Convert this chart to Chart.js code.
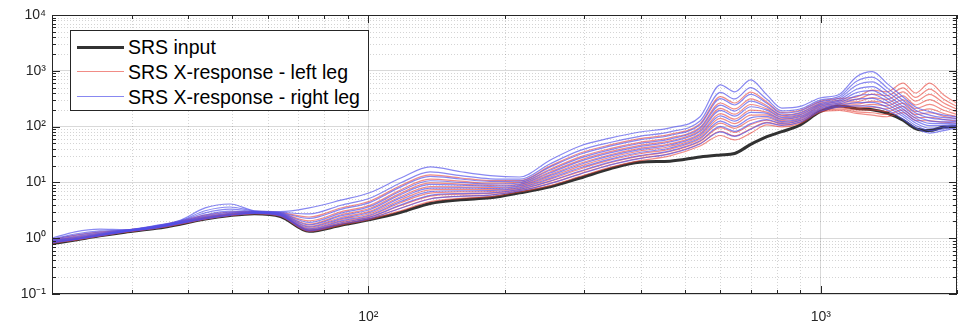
<!DOCTYPE html>
<html>
<head>
<meta charset="utf-8">
<script src="https://cdn.jsdelivr.net/npm/chart.js@4.4.1/dist/chart.umd.min.js"></script>
<style>
html,body{margin:0;padding:0;background:#fff;}
#wrap{position:relative;width:961px;height:330px;overflow:hidden;}
#c{position:absolute;left:0;top:0;}
#legend{position:absolute;left:70px;top:30px;width:297px;height:79px;background:#fff;border:1px solid #262626;
  font-family:"Liberation Sans",Arial,Helvetica,sans-serif;font-size:19.5px;color:#000;z-index:2;}
.item{position:absolute;left:0;height:24px;width:297px;}
.item .sw{position:absolute;left:6px;width:47px;top:12px;}
.item .tx{position:absolute;left:57px;top:0;line-height:24px;white-space:nowrap;}
</style>
</head>
<body>
<div id="wrap">
  <canvas id="c" width="961" height="330"></canvas>
  <div id="legend"></div>
</div>
<script>
// ---- data (frequency in Hz, SRS values) ----
const freqs = [20,22.5,25.5,29,34,38.4,43.6,49.5,56,64, 74,87,101,118,137,160,186,216,252,294, 342,398,464,541,600,645,700,760,820,900, 996,1100,1200,1300,1400,1520,1620,1740,1870,2000];

const srsInput = [0.8,0.93,1.1,1.28,1.5,1.78,2.2,2.55,2.75,2.45, 1.33,1.7,2.15,2.9,4.2,4.9,5.3,6.5,8.3,12, 17.5,23,24,28.5,31,33,48,66,81,107, 185,235,210,200,175,130,92,85,98,100];

const rightLeg1 = [1.0,1.3,1.45,1.42,1.70,2.1,3.5,4.1,3.1,3.0, 3.5,4.8,6.6,12,19,15.5,13.2,12.5,25,45, 62,80,95,150,560,420,690,370,215,230, 325,380,785,965,595,340,225,185,160,150];
const rightLeg2 = [0.97,1.19,1.35,1.40,1.67,2.05,3.1,3.62,3.05,2.92, 2.72,3.89,5.26,9.85,15.4,13.2,11.6,11.4,21.4,37.4, 51.9,67,80.2,126,411,313,498,308,192,207, 298,350,649,769,499,294,197,161,145,140];
const rightLeg3 = [0.94,1.12,1.28,1.38,1.64,2.01,2.84,3.31,3.0,2.85, 2.26,3.29,4.39,8.31,12.8,11.5,10.4,10.5,18.8,31.9, 44.6,57.8,69.2,108,316,244,377,263,174,190, 277,326,551,632,430,259,175,143,133,131];
const rightLeg4 = [0.92,1.06,1.22,1.36,1.62,1.97,2.62,3.05,2.96,2.78, 1.92,2.82,3.72,7.0,10.7,10.0,9.33,9.75,16.5,27.2, 38.3,49.8,59.7,92.5,243,190,286,225,158,174, 257,303,467,521,369,229,155,127,122,124];
const rightLeg5 = [0.90,1.02,1.18,1.35,1.60,1.94,2.50,2.90,2.93,2.72, 1.73,2.51,3.27,6.07,9.21,8.92,8.52,9.14,14.7,23.8, 33.8,43.9,52.9,81.5,195,154,227,197,145,161, 242,286,407,442,326,206,141,114,113,117];
const rightLeg6 = [0.88,0.99,1.16,1.34,1.58,1.91,2.39,2.78,2.89,2.67, 1.58,2.25,2.92,5.27,7.92,7.95,7.77,8.55,13.2,20.9, 29.8,38.8,46.8,71.7,156,125,180,173,134,150, 227,269,355,376,288,186,128,104,105,112];
const rightLeg7 = [0.86,0.96,1.13,1.32,1.56,1.88,2.31,2.67,2.86,2.61, 1.47,2.05,2.63,4.57,6.81,7.08,7.1,8.01,11.8,18.3, 26.2,34.3,41.4,63.1,125,101,143,152,123,139, 213,254,310,320,254,167,116,93.6,98,106];
const rightLeg8 = [0.84,0.95,1.12,1.31,1.54,1.85,2.25,2.61,2.82,2.56, 1.40,1.89,2.41,3.96,5.85,6.31,6.48,7.51,10.6,16.0, 23.1,30.2,36.7,55.6,101,82.3,113,133,114,129, 201,239,270,272,224,151,105,84.8,91.3,101];
const rightLeg9 = [0.82,0.94,1.10,1.30,1.52,1.82,2.21,2.57,2.79,2.51, 1.35,1.78,2.25,3.44,5.04,5.63,5.91,7.03,9.48,14.1, 20.4,26.7,32.4,48.9,80.7,66.8,89.8,117,105,120, 188,226,236,231,198,136,95.5,76.7,85,95.7];

const leftLeg1 = [0.95,1.14,1.30,1.39,1.65,2.03,2.6,2.95,3.02,2.87, 2.40,3.48,4.65,8.78,13.6,12.0,10.8,10.8,19.6,33.7, 46.9,60.8,72.6,113,345,265,414,277,180,196, 284,320,340,450,420,600,400,600,370,260];
const leftLeg2 = [0.93,1.08,1.24,1.37,1.63,1.99,2.45,2.8,2.98,2.80, 2.04,2.97,3.92,7.4,11.4,10.5,9.67,10.0,17.2,28.7, 40.3,52.3,62.7,97.3,265,207,314,237,163,179, 263,296,305,382,357,495,334,468,309,229];
const leftLeg3 = [0.91,1.03,1.2,1.36,1.61,1.95,2.38,2.72,2.94,2.74, 1.79,2.63,3.44,6.43,9.78,9.33,8.83,9.37,15.4,25.1, 35.5,46.2,55.5,85.8,213,167,249,208,150,166, 247,276,278,330,308,418,286,377,265,204];
const leftLeg4 = [0.89,1.0,1.17,1.34,1.59,1.92,2.32,2.66,2.91,2.69, 1.63,2.35,3.05,5.58,8.42,8.32,8.06,8.79,13.8,22.0, 31.3,40.8,49.1,75.4,171,136,197,182,138,154, 233,258,253,287,267,354,244,305,227,183];
const leftLeg5 = [0.87,0.97,1.14,1.33,1.57,1.89,2.28,2.62,2.87,2.64, 1.52,2.15,2.77,4.9,7.35,7.5,7.43,8.28,12.5,19.6, 27.9,36.5,44.0,67.3,140,113,160,162,128,144, 220,243,232,251,235,303,211,250,196,165];
const leftLeg6 = [0.85,0.955,1.125,1.32,1.55,1.86,2.25,2.6,2.84,2.59, 1.44,1.98,2.54,4.32,6.41,6.76,6.84,7.81,11.3,17.4, 25.0,32.6,39.5,60.0,115,93.3,130,144,119,135, 208,229,214,223,208,263,185,208,172,150];
const leftLeg7 = [0.84,0.94,1.11,1.31,1.54,1.84,2.23,2.58,2.82,2.55, 1.38,1.87,2.38,3.85,5.68,6.17,6.36,7.41,10.4,15.6, 22.5,29.5,35.8,54.2,96.2,78.9,108,130,112,127, 198,218,199,200,186,231,164,177,153,138];
const leftLeg8 = [0.82,0.935,1.10,1.29,1.52,1.81,2.21,2.56,2.79,2.51, 1.36,1.79,2.27,3.48,5.1,5.7,5.95,7.1,9.6,14.3, 20.7,27.1,33.0,49.8,82.5,68.0,91.5,119,106,121, 188,205,184,177,165,200,144,147,134,125];
const leftLeg9 = [0.81,0.93,1.10,1.285,1.51,1.79,2.2,2.55,2.76,2.47, 1.33,1.72,2.18,3.11,4.53,5.19,5.55,6.72,8.77,12.8, 18.6,24.5,29.8,44.8,69.2,57.7,76.4,107,99,114, 181,196,172,160,150,178,129,127,120,116];

const rightLegSeries = [rightLeg1,rightLeg2,rightLeg3,rightLeg4,rightLeg5,rightLeg6,rightLeg7,rightLeg8,rightLeg9];
const leftLegSeries = [leftLeg1,leftLeg2,leftLeg3,leftLeg4,leftLeg5,leftLeg6,leftLeg7,leftLeg8,leftLeg9];

const seriesNames = ['SRS input', 'SRS X-response - left leg', 'SRS X-response - right leg'];

// ---- ticks ----
const xTickValues = [20,30,40,50,60,70,80,90,100,200,300,400,500,600,700,800,900,1000,2000];
const xMajorTicks = [100, 1000];
const xMajorLabels = ['10\u00B2', '10\u00B3'];
const yMajorTicks = [0.1, 1, 10, 100, 1000, 10000];
const yMajorLabels = ['10\u207B\u00B9', '10\u2070', '10\u00B9', '10\u00B2', '10\u00B3', '10\u2074'];

// ---- styling ----
const FONT = '"Liberation Sans", Arial, Helvetica, sans-serif';
const BLACK = 'rgb(50,50,50)';
const RED = 'rgba(232,70,60,0.62)';
const BLUE = 'rgba(80,80,235,0.68)';
const AXIS = '#262626';

const yTickValues = [];
for (let i = 0; i < yMajorTicks.length - 1; i++) {
  for (let k = 1; k <= 9; k++) yTickValues.push(+(yMajorTicks[i] * k).toPrecision(6));
}
yTickValues.push(yMajorTicks[yMajorTicks.length - 1]);

function isDecade(v) { const l = Math.log10(v); return Math.abs(l - Math.round(l)) < 1e-6; }
function labelFor(v, majors, labels) {
  for (let i = 0; i < majors.length; i++) if (Math.abs(Math.log10(v) - Math.log10(majors[i])) < 1e-6) return labels[i];
  return '';
}
function pts(vals) { return freqs.map((f, i) => ({ x: f, y: vals[i] })); }

const datasets = [];
datasets.push({ label: seriesNames[0], data: pts(srsInput), borderColor: BLACK, borderWidth: 3, order: 3 });
leftLegSeries.forEach((s, i) => datasets.push({ label: i === 0 ? seriesNames[1] : '', data: pts(s), borderColor: RED, borderWidth: 1.2, order: 2 }));
rightLegSeries.forEach((s, i) => datasets.push({ label: i === 0 ? seriesNames[2] : '', data: pts(s), borderColor: BLUE, borderWidth: 1.2, order: 1 }));

// ---- MATLAB-like axes: dotted minor grid, inward ticks, box ----
const matlabAxes = {
  id: 'matlabAxes',
  beforeDatasetsDraw(chart) {
    const { ctx, chartArea: a, scales: { x, y } } = chart;
    ctx.save();
    ctx.strokeStyle = 'rgba(0,0,0,0.17)';
    ctx.lineWidth = 1;
    ctx.setLineDash([1, 2]);
    ctx.beginPath();
    x.ticks.forEach(t => {
      if (isDecade(t.value)) return;
      const px = Math.round(x.getPixelForValue(t.value)) + 0.5;
      ctx.moveTo(px, a.top); ctx.lineTo(px, a.bottom);
    });
    y.ticks.forEach(t => {
      if (isDecade(t.value)) return;
      const py = Math.round(y.getPixelForValue(t.value)) + 0.5;
      ctx.moveTo(a.left, py); ctx.lineTo(a.right, py);
    });
    ctx.stroke();
    ctx.restore();
  },
  afterDatasetsDraw(chart) {
    const { ctx, chartArea: a, scales: { x, y } } = chart;
    ctx.save();
    ctx.strokeStyle = AXIS;
    ctx.lineWidth = 1;
    ctx.beginPath();
    x.ticks.forEach(t => {
      const px = Math.round(x.getPixelForValue(t.value)) + 0.5;
      const len = isDecade(t.value) ? 8 : 4;
      ctx.moveTo(px, a.bottom); ctx.lineTo(px, a.bottom - len);
      ctx.moveTo(px, a.top); ctx.lineTo(px, a.top + len);
    });
    y.ticks.forEach(t => {
      const py = Math.round(y.getPixelForValue(t.value)) + 0.5;
      const len = isDecade(t.value) ? 8 : 4;
      ctx.moveTo(a.left, py); ctx.lineTo(a.left + len, py);
      ctx.moveTo(a.right, py); ctx.lineTo(a.right - len, py);
    });
    ctx.stroke();
    ctx.strokeRect(Math.round(a.left) + 0.5, Math.round(a.top) + 0.5, Math.round(a.right - a.left) - 1, Math.round(a.bottom - a.top) - 1);
    ctx.restore();
  }
};

const tickFont = { family: FONT, size: 14 };

new Chart(document.getElementById('c').getContext('2d'), {
  type: 'line',
  data: { datasets },
  options: {
    responsive: false,
    animation: false,
    events: [],
    layout: { padding: { top: 15, right: 4, left: 0, bottom: 0 } },
    plugins: { legend: { display: false }, tooltip: { enabled: false } },
    elements: { point: { radius: 0 }, line: { cubicInterpolationMode: 'monotone' } },
    scales: {
      x: {
        type: 'logarithmic', min: 20, max: 2000,
        afterBuildTicks: s => { s.ticks = xTickValues.map(v => ({ value: v })); },
        afterFit: s => { s.height = 36; s.paddingLeft = 0; s.paddingRight = 0; },
        grid: { color: c => (c.tick && isDecade(c.tick.value)) ? 'rgba(0,0,0,0.15)' : 'rgba(0,0,0,0)', drawTicks: false, lineWidth: 1 },
        border: { display: false },
        ticks: { autoSkip: false, maxRotation: 0, minRotation: 0, padding: 15, color: AXIS, font: tickFont,
          callback: v => labelFor(v, xMajorTicks, xMajorLabels) }
      },
      y: {
        type: 'logarithmic', min: 0.1, max: 10000,
        afterBuildTicks: s => { s.ticks = yTickValues.map(v => ({ value: v })); },
        afterFit: s => { s.width = 52; s.paddingTop = 0; s.paddingBottom = 0; },
        grid: { color: c => (c.tick && isDecade(c.tick.value)) ? 'rgba(0,0,0,0.15)' : 'rgba(0,0,0,0)', drawTicks: false, lineWidth: 1 },
        border: { display: false },
        ticks: { autoSkip: false, padding: 6, color: AXIS, font: tickFont,
          callback: v => labelFor(v, yMajorTicks, yMajorLabels) }
      }
    }
  },
  plugins: [matlabAxes]
});

// ---- legend (real text) ----
const legend = document.getElementById('legend');
const legendStyles = [
  { color: BLACK, width: 3 },
  { color: RED, width: 1.2 },
  { color: BLUE, width: 1.2 }
];
seriesNames.forEach((name, i) => {
  const item = document.createElement('div');
  item.className = 'item';
  item.style.top = (4 + i * 25) + 'px';
  const sw = document.createElement('div');
  sw.className = 'sw';
  sw.style.borderTop = legendStyles[i].width + 'px solid ' + legendStyles[i].color;
  sw.style.marginTop = (-legendStyles[i].width / 2) + 'px';
  const tx = document.createElement('span');
  tx.className = 'tx';
  tx.textContent = name;
  item.appendChild(sw); item.appendChild(tx);
  legend.appendChild(item);
});
</script>
</body>
</html>
